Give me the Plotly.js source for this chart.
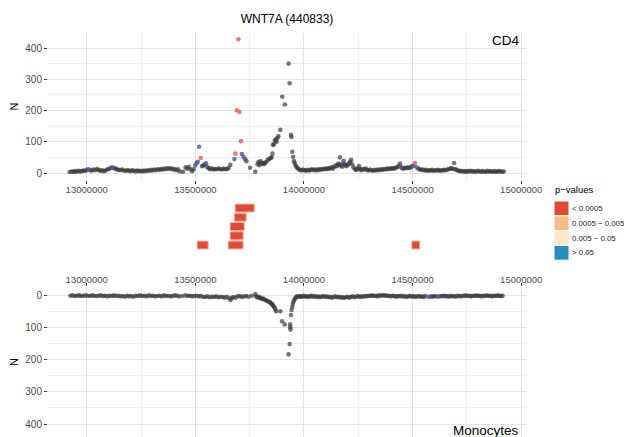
<!DOCTYPE html>
<html><head><meta charset="utf-8">
<script src="https://cdn.plot.ly/plotly-3.0.1.min.js"></script>
<style>html,body{margin:0;padding:0;background:#fff}#chart{width:624px;height:437px}</style>
</head><body><div id="chart"></div>
<script>
// ---------- DATA ----------
const chartTitle = 'WNT7A (440833)';
const panelNames = ['CD4', 'Monocytes'];
const xTicks = [13000000, 13500000, 14000000, 14500000, 15000000];
const yTicks = [0, 100, 200, 300, 400];

// CD4 panel (grey = not significant)
const cd4GreyPos = [12921000,12930000,12938000,12945000,12953000,12961000,12969000,12977000,12985000,12993000,13001000,13016000,13024000,13031000,13039000,13047000,13055000,13062000,13070000,13078000,13086000,13094000,13101000,13109000,13123000,13131000,13139000,13146000,13154000,13162000,13170000,13178000,13186000,13193000,13201000,13209000,13217000,13225000,13232000,13240000,13248000,13256000,13263000,13271000,13279000,13287000,13295000,13302000,13310000,13318000,13326000,13334000,13342000,13349000,13357000,13365000,13373000,13381000,13389000,13397000,13404000,13412000,13420000,13428000,13443000,13455000,13462000,13470000,13478000,13485000,13492000,
13531000,13537000,13543000,13555000,13561000,13568000,13575000,13583000,13590000,13598000,13606000,13614000,13622000,13630000,13638000,13646000,13653000,13661000,13729000,13735000,13752000,13776000,13786000,13790000,13795000,13800000,13805000,13810000,13815000,13820000,13826000,13833000,13840000,13846000,13851000,13855000,13857000,13862000,13866000,13870000,13874000,13878000,13882000,13891000,13900000,13912000,13929000,13934000,13940000,13942000,13946000,13950000,13954000,13957000,13961000,13965000,13970000,13976000,13982000,13989000,13996000,14003000,14010000,14017000,14024000,
14031000,14038000,14045000,14052000,14059000,14066000,14073000,14080000,14087000,14094000,14101000,14108000,14114000,14120000,14127000,14133000,14140000,14146000,14152000,14158000,14162000,14165000,14170000,14176000,14180000,14188000,14194000,14200000,14206000,14212000,14217000,14222000,14228000,14235000,14241000,14248000,14253000,14258000,14264000,14270000,14277000,14284000,14290000,14297000,14304000,14311000,14318000,14325000,14332000,14339000,14346000,14353000,14360000,14367000,14374000,14381000,14388000,14395000,14402000,14409000,14416000,14423000,14430000,14436000,14442000,14450000,14457000,14464000,14471000,14478000,14485000,14492000,14505000,14526000,14533000,14540000,14547000,14554000,14561000,14568000,14575000,14582000,14589000,14596000,14603000,14610000,14617000,14624000,14631000,14638000,14645000,14652000,14659000,14666000,14673000,14680000,14686000,14691000,14696000,14702000,14709000,14716000,14723000,14730000,14737000,14744000,14751000,14758000,14765000,14772000,14779000,14786000,14793000,14800000,14807000,14814000,14821000,14828000,14835000,14842000,14849000,14856000,14863000,14870000,14877000,14884000,14891000,14898000,14905000,14912000,14920000];
const cd4GreyN = [3,5,4,6,4,7,5,6,8,7,10,9,8,11,9,13,10,7,9,6,8,11,13,15,16,14,12,10,9,11,8,7,9,8,6,9,7,5,8,6,7,5,8,6,9,7,10,8,11,9,12,10,13,11,14,12,16,13,15,11,13,9,12,5,4,18,14,20,12,6,12,
22,24,28,19,15,12,15,11,13,12,14,13,11,14,12,13,16,26,45,38,17,4,28,35,25,38,30,33,28,32,35,42,45,48,50,62,90,92,103,108,100,112,118,138,244,219,350,287,122,115,68,52,38,32,25,20,15,12,10,8,11,9,7,10,8,
10,12,9,11,8,12,10,13,11,14,12,15,13,16,18,14,20,25,22,30,27,50,24,20,32,28,22,25,30,35,42,28,18,12,10,14,22,12,9,13,11,14,10,8,11,9,7,10,8,11,9,12,10,13,11,14,12,15,13,16,14,17,19,22,30,16,14,17,15,18,16,19,24,14,12,10,11,8,10,7,9,8,10,7,9,8,10,7,9,8,10,9,11,12,14,15,13,32,12,10,8,6,7,5,6,4,6,5,7,5,6,4,5,7,5,4,6,5,3,7,5,6,4,5,6,4,5,6,5,4,5];
const cd4BluePos = [13008000,13116000,13499000,13506000,13511000,13517000,13549000,13680000,13714000,13721000,14183000,14445000,14499000,14519000];
const cd4BlueN   = [12,18,24,31,36,84,31,45,61,52,39,20,22,18];
const cd4RedPos  = [13525000,13684000,13691000,13698000,13703000,13710000,14511000];
const cd4RedN    = [48,62,201,428,195,102,32];

// Monocytes panel
const monoGreyPos = [12925000,12935000,12945000,12955000,12965000,12975000,12985000,12995000,13005000,13015000,13025000,13035000,13045000,13055000,13065000,13075000,13085000,13095000,13105000,13115000,13125000,13135000,13145000,13155000,13165000,13175000,13185000,13195000,13205000,13215000,13225000,13235000,13245000,13255000,13265000,13275000,13285000,13295000,13305000,13315000,13325000,13335000,13345000,13355000,13365000,13375000,13385000,13395000,13405000,13415000,13425000,13440000,13455000,13465000,13475000,13485000,13495000,13505000,13515000,13525000,13535000,13545000,13555000,13565000,13575000,13585000,13595000,13605000,13615000,13625000,13635000,13645000,13655000,13662000,13668000,13675000,13685000,13695000,13705000,13715000,13725000,13735000,13745000,13760000,13776000,13780000,13785000,13790000,13795000,13800000,13806000,13812000,13818000,13824000,13830000,13836000,13842000,13848000,13852000,13856000,13860000,13864000,13868000,13872000,13891000,13899000,13911000,13929000,13934000,13936000,13937000,13938000,13940000,13943000,13946000,13949000,13952000,13956000,13960000,13964000,13968000,13974000,13980000,13986000,13992000,13998000,14005000,14012000,14019000,14026000,14033000,14040000,14048000,14056000,14064000,14072000,14080000,14088000,14096000,14104000,14112000,14120000,14128000,14136000,14144000,14152000,14160000,14168000,14176000,14184000,14192000,14200000,14208000,14216000,14224000,14232000,14240000,14248000,14256000,14264000,14272000,14280000,14288000,14296000,14304000,14312000,14320000,14328000,14336000,14344000,14352000,14360000,14368000,14376000,14384000,14392000,14400000,14408000,14416000,14424000,14432000,14440000,14448000,14456000,14464000,14472000,14480000,14488000,14496000,14504000,14512000,14520000,14528000,14536000,14544000,14552000,14560000,14584000,14592000,14600000,14608000,14626000,14634000,14642000,14650000,14658000,14666000,14674000,14682000,14690000,14698000,14706000,14714000,14722000,14730000,14738000,14746000,14754000,14762000,14770000,14778000,14786000,14794000,14802000,14810000,14818000,14826000,14834000,14842000,14850000,14858000,14866000,14874000,14882000,14890000,14898000,14906000,14914000];
const monoGreyN = [2,1,3,2,1,3,2,1,2,3,1,2,3,2,1,3,2,4,2,3,1,3,2,4,3,5,2,4,3,5,2,3,1,3,2,4,1,3,2,4,3,2,4,1,3,2,4,3,1,2,4,3,1,3,2,4,3,2,4,3,5,6,4,7,5,6,4,7,5,6,8,5,10,15,9,6,8,4,3,6,4,3,5,2,-3,4,7,5,9,8,12,11,14,16,18,20,22,25,28,30,35,38,44,50,50,81,91,184,152,91,100,107,62,46,36,27,20,14,10,6,4,5,3,6,4,2,5,3,6,4,2,5,3,6,4,7,5,3,6,4,7,5,8,6,4,7,5,8,6,9,7,5,8,6,4,7,5,3,6,4,5,3,4,2,3,1,3,2,4,1,3,0,2,1,3,2,4,2,3,5,3,4,2,5,3,6,4,2,5,3,6,4,3,5,4,6,3,4,5,3,4,3,4,2,4,3,5,2,4,3,5,2,3,4,2,3,1,3,2,4,2,3,1,3,2,4,2,3,1,3,2,4,2,3,1,2,3,2];
const monoBluePos = [14576000,14618000];
const monoBlueN   = [6,5];

// Significant regions (middle panel)
const segStart = [13683000,13679000,13660000,13660000,13651000,13508000,14496000];
const segEnd   = [13771000,13734000,13725000,13720000,13720000,13559000,14533000];
const segRow   = [5,4,3,2,1,1,1];
const segCat   = ['< 0.0005','< 0.0005','< 0.0005','< 0.0005','< 0.0005','< 0.0005','< 0.0005'];

// Legend
const pCats   = ['< 0.0005','0.0005 \u2212 0.005','0.005 \u2212 0.05','> 0.05'];
const pColors = ['#e34a33','#fdbb84','#fee8c8','#2b8cbe'];
const legendTitle = 'p\u2212values';

// ---------- LAYOUT ----------
const W = 624, H = 437, ML = 48, MR = 98;
const fy = p => 1 - p / H;
const fx = p => (p - ML) / (W - ML - MR);
const FONT = 'Liberation Sans, Arial, Helvetica, sans-serif';
const xRange = [12821700, 15021900];
const GRID = '#e3e3e3', MINOR = '#eeeeee';
const greyCol = 'rgba(55,55,55,0.68)', blueCol = 'rgba(70,85,170,0.8)', redCol = 'rgba(246,100,100,0.88)';

function pts(x, y, col, xa, ya) {
  return {type:'scatter', mode:'markers', x:x, y:y, xaxis:xa, yaxis:ya,
    marker:{size:4.6, color:col, line:{width:0}}, hoverinfo:'skip', showlegend:false, cliponaxis:false};
}

const traces = [
  pts(cd4GreyPos, cd4GreyN, greyCol, 'x', 'y'),
  pts(cd4BluePos, cd4BlueN, blueCol, 'x', 'y'),
  pts(cd4RedPos, cd4RedN, redCol, 'x', 'y'),
  {type:'bar', orientation:'h', base:segStart, x:segEnd.map((e,i)=>e-segStart[i]), y:segRow,
   width:0.86, xaxis:'x2', yaxis:'y2', hoverinfo:'skip', showlegend:false,
   marker:{color:segCat.map(c=>pColors[pCats.indexOf(c)]), line:{color:'rgba(250,180,165,1)', width:1}}},
  pts(monoGreyPos, monoGreyN, greyCol, 'x3', 'y3'),
  pts(monoBluePos, monoBlueN, blueCol, 'x3', 'y3')
];

const xCommon = {range:xRange, tickvals:xTicks, ticktext:xTicks.map(v=>String(v)),
  showgrid:true, gridcolor:GRID, gridwidth:1, zeroline:false, showline:false,
  minor:{dtick:250000, tick0:13000000, showgrid:true, gridcolor:MINOR, gridwidth:1},
  ticks:'outside', ticklen:3, tickcolor:'#333', tickwidth:1,
  tickfont:{family:FONT, size:9.5, color:'#4d4d4d'}};
const yCommon = {tickvals:yTicks, showgrid:true, gridcolor:GRID, gridwidth:1, zeroline:false, showline:false,
  minor:{dtick:50, showgrid:true, gridcolor:MINOR, gridwidth:1},
  ticks:'outside', ticklen:3, tickcolor:'#333', tickwidth:1,
  tickfont:{family:FONT, size:10, color:'#4d4d4d'},
  title:{text:'N', standoff:4, font:{family:FONT, size:11, color:'#000'}}};

const shapes = [], annotations = [];
const swTop = 201, swH = 14.8;
pCats.forEach((c,i)=>{
  shapes.push({type:'rect', xref:'paper', yref:'paper', x0:fx(554), x1:fx(569),
    y0:fy(swTop + (i+1)*swH), y1:fy(swTop + i*swH), fillcolor:pColors[i], line:{color:'#fff', width:1}});
  annotations.push({xref:'paper', yref:'paper', x:fx(570), y:fy(swTop + (i+0.5)*swH), xanchor:'left', yanchor:'middle',
    text:c, showarrow:false, font:{family:FONT, size:7.8, color:'#222'}});
});
annotations.push({xref:'paper', yref:'paper', x:fx(553), y:fy(190), xanchor:'left', yanchor:'middle',
  text:legendTitle, showarrow:false, font:{family:FONT, size:9.5, color:'#000'}});
annotations.push({xref:'paper', yref:'paper', x:fx(521), y:fy(40), xanchor:'right', yanchor:'middle',
  text:panelNames[0], showarrow:false, font:{family:FONT, size:13.5, color:'#000'}});
annotations.push({xref:'paper', yref:'paper', x:fx(521), y:fy(430), xanchor:'right', yanchor:'middle',
  text:panelNames[1], showarrow:false, font:{family:FONT, size:13.5, color:'#000'}});

const layout = {
  width:W, height:H, margin:{l:ML, r:MR, t:0, b:0, pad:0},
  paper_bgcolor:'#fff', plot_bgcolor:'#fff', showlegend:false,
  font:{family:FONT},
  title:{text:chartTitle, x:fx(287), xref:'paper', xanchor:'center', y:fy(19), yref:'container', yanchor:'middle',
    font:{family:FONT, size:12, color:'#000'}},
  xaxis:Object.assign({}, xCommon, {anchor:'y', domain:[0,1], ticklabelstandoff:-2}),
  yaxis:Object.assign({}, yCommon, {domain:[fy(180), fy(33)], range:[-22.4, 448]}),
  xaxis2:{anchor:'y2', domain:[0,1], range:xRange, visible:false},
  yaxis2:{domain:[fy(275), fy(195)], range:[-2.24, 6.41], visible:false},
  xaxis3:Object.assign({}, xCommon, {anchor:'y3', domain:[0,1], side:'top', ticklabelstandoff:-4}),
  yaxis3:Object.assign({}, yCommon, {domain:[0, fy(287)], range:[440, -25]}),
  shapes:shapes, annotations:annotations
};
Plotly.newPlot('chart', traces, layout, {staticPlot:true, displayModeBar:false});
</script></body></html>
